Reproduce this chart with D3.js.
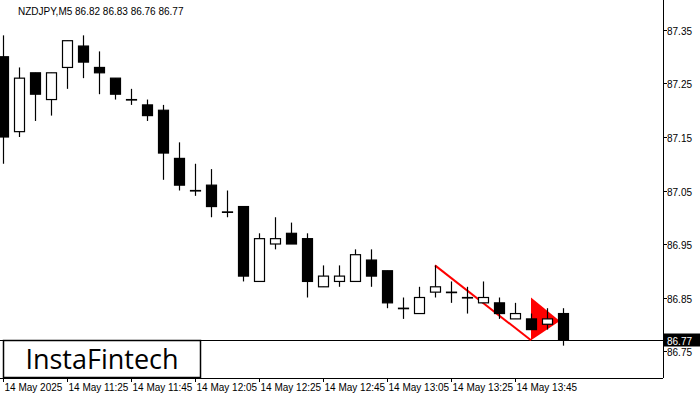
<!DOCTYPE html>
<html><head><meta charset="utf-8">
<script src="https://cdn.jsdelivr.net/npm/d3@7"></script>
<style>body{margin:0;background:#fff}svg{display:block;font-family:"Liberation Sans",Arial,sans-serif}</style>
</head><body><div id="container"></div>
<script>
// NZDJPY M5 candles, 14 May 2025, from 11:05
const opens  = [87.30,87.16,87.27,87.22,87.28,87.32,87.28,87.26,87.22,87.21,87.20,87.11,87.05,87.06,87.01,87.02,86.88,86.95,86.97,86.96,86.87,86.88,86.88,86.92,86.90,86.83,86.82,86.86,86.86,86.85,86.84,86.84,86.81,86.81,86.80,86.82];
const highs  = [87.34,87.28,87.27,87.27,87.33,87.34,87.31,87.26,87.24,87.22,87.21,87.14,87.10,87.09,87.05,87.02,86.97,87.00,86.99,86.97,86.91,86.91,86.94,86.94,86.90,86.85,86.87,86.91,86.88,86.87,86.88,86.85,86.84,86.82,86.83,86.83];
const lows   = [87.10,87.15,87.18,87.19,87.24,87.26,87.23,87.22,87.21,87.18,87.07,87.05,87.04,87.00,87.00,86.88,86.88,86.94,86.95,86.85,86.87,86.87,86.88,86.87,86.83,86.81,86.82,86.85,86.84,86.82,86.84,86.81,86.81,86.79,86.79,86.76];
const closes = [87.15,87.26,87.23,87.27,87.33,87.29,87.27,87.23,87.22,87.19,87.12,87.06,87.05,87.02,87.01,86.89,86.96,86.96,86.95,86.88,86.89,86.89,86.93,86.89,86.84,86.83,86.85,86.87,86.86,86.85,86.85,86.82,86.82,86.79,86.81,86.77];
const priceTicks = [87.35,87.25,87.15,87.05,86.95,86.85,86.75];
const timeLabels = ["14 May 2025","14 May 11:25","14 May 11:45","14 May 12:05","14 May 12:25","14 May 12:45","14 May 13:05","14 May 13:25","14 May 13:45"];
const lastPrice = 86.77;
// pennant pattern: flagpole and flag [candle index, price]
const pole = [[27,86.91],[33,86.77]];
const flag = [[33,86.85],[33,86.77],[34.8,86.806]];

const W = 700, H = 400, plotR = 663, plotB = 378;
const x = d3.scaleLinear().domain([0,1]).range([3,19]);
const y = d3.scaleLinear().domain([86.75,87.35]).range([351,30]);

const svg = d3.select("#container").append("svg").attr("width",W).attr("height",H);
const g = svg.append("g");

g.append("line").attr("x1",plotR+0.5).attr("x2",plotR+0.5).attr("y1",0).attr("y2",plotB).attr("stroke","#000");
g.append("line").attr("x1",0).attr("x2",plotR).attr("y1",plotB+0.5).attr("y2",plotB+0.5).attr("stroke","#000");

// price axis
priceTicks.forEach(p=>{
  const yy = Math.round(y(p))+0.5;
  g.append("line").attr("x1",plotR).attr("x2",plotR+4).attr("y1",yy).attr("y2",yy).attr("stroke","#000");
  g.append("text").attr("x",667).attr("y",yy+4).attr("font-size",10).text(p.toFixed(2));
});
// time axis
timeLabels.forEach((t,i)=>{
  const xx = Math.round(x(i*4))+0.5;
  g.append("line").attr("x1",xx).attr("x2",xx).attr("y1",plotB).attr("y2",plotB+4).attr("stroke","#000");
  g.append("text").attr("x",xx+1).attr("y",391).attr("font-size",10).text(t);
});

// current price line
const ly = Math.round(y(lastPrice))+0.5;
g.append("line").attr("x1",0).attr("x2",plotR).attr("y1",ly).attr("y2",ly).attr("stroke","#000");

// red pattern
g.append("path").attr("d",d3.line().x(d=>x(d[0])).y(d=>y(d[1]))(pole)).attr("stroke","#ff0000").attr("stroke-width",2).attr("fill","none");
g.append("path").attr("d",d3.line().x(d=>x(d[0])).y(d=>y(d[1]))(flag)+"Z").attr("fill","#ff0000");

// candles
const c = g.selectAll(".c").data(opens.map((o,i)=>({i,o,h:highs[i],l:lows[i],c:closes[i]}))).join("g");
c.append("line").attr("x1",d=>Math.round(x(d.i))+0.5).attr("x2",d=>Math.round(x(d.i))+0.5)
  .attr("y1",d=>y(d.h)).attr("y2",d=>y(d.l)).attr("stroke","#000").attr("stroke-width",1.2);
c.append("rect").attr("x",d=>Math.round(x(d.i))-4.5).attr("width",10)
  .attr("y",d=>Math.min(y(d.o),y(d.c))).attr("height",d=>Math.max(0.5,Math.abs(y(d.o)-y(d.c))))
  .attr("fill",d=>d.c<d.o?"#000":"#fff").attr("stroke","#000").attr("stroke-width",1.2);

// price tag
g.append("rect").attr("x",plotR+1).attr("y",ly-7).attr("width",36).attr("height",13).attr("fill","#000");
g.append("text").attr("x",667).attr("y",ly+4).attr("font-size",10).attr("fill","#fff").text(lastPrice.toFixed(2));

// title
const last = opens.length-1;
g.append("text").attr("x",18).attr("y",15).attr("font-size",10)
  .text(`NZDJPY,M5  ${opens[last].toFixed(2)} ${highs[last].toFixed(2)} ${lows[last].toFixed(2)} ${closes[last].toFixed(2)}`);

// logo
g.append("rect").attr("x",3.5).attr("y",340.5).attr("width",197).attr("height",37).attr("fill","#fff").attr("stroke","#000").attr("stroke-width",1.5);
g.append("text").attr("x",102).attr("y",369).attr("text-anchor","middle").attr("font-family","'Open Sans',sans-serif").attr("font-size",27).text("InstaFintech");
</script></body></html>
